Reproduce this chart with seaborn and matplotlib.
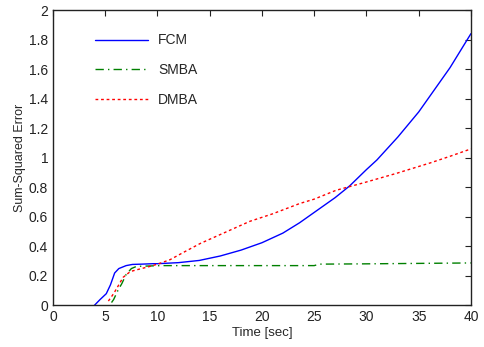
import matplotlib
matplotlib.use("Agg")
import matplotlib.pyplot as plt
from matplotlib.ticker import FuncFormatter, MultipleLocator
import seaborn as sns
import pandas as pd

# Sum-squared error over time for each method
fcm_t = [3.95, 4.5, 5.1, 5.5, 5.9, 6.3, 7.0, 7.6, 8.5, 9.6, 10, 12, 14, 16, 18, 20,
         22, 23.6, 25, 27, 28.4, 30, 31, 33, 35, 36, 38, 40]
fcm_e = [0.0, 0.04, 0.08, 0.14, 0.22, 0.25, 0.27, 0.278, 0.28, 0.283, 0.283, 0.29, 0.305,
         0.335, 0.375, 0.425, 0.49, 0.56, 0.63, 0.73, 0.81, 0.92, 0.985, 1.14, 1.31,
         1.41, 1.61, 1.84]

smba_t = [5.6, 5.8, 6.2, 6.6, 7.0, 7.5, 8, 9, 10.4, 15, 20, 25, 25.5, 30, 35, 40]
smba_e = [0.02, 0.04, 0.10, 0.15, 0.21, 0.25, 0.265, 0.267, 0.27, 0.27, 0.27, 0.27,
          0.28, 0.282, 0.285, 0.288]

dmba_t = [5.3, 5.8, 6.3, 6.7, 7.4, 8.2, 9.3, 10, 11.2, 12.5, 14.1, 16, 18.85, 21, 23.6,
          25, 27.1, 29.7, 32.9, 36.1, 38, 40]
dmba_e = [0.03, 0.08, 0.14, 0.19, 0.23, 0.245, 0.265, 0.28, 0.31, 0.36, 0.42, 0.48, 0.57,
          0.62, 0.69, 0.72, 0.78, 0.83, 0.895, 0.965, 1.01, 1.06]

methods = ["FCM", "SMBA", "DMBA"]
x_ticks = list(range(0, 41, 5))

df = pd.concat([
    pd.DataFrame({"Time": fcm_t, "SSE": fcm_e, "Method": "FCM"}),
    pd.DataFrame({"Time": smba_t, "SSE": smba_e, "Method": "SMBA"}),
    pd.DataFrame({"Time": dmba_t, "SSE": dmba_e, "Method": "DMBA"}),
], ignore_index=True)

sns.set_style("white")
plt.rcParams["font.family"] = ["Liberation Sans", "DejaVu Sans"]

fig = plt.figure(figsize=(4.84, 3.47), dpi=100)
ax = fig.add_axes([0.1095, 0.1196, 0.8635, 0.8515])

palette = {"FCM": "#0000ff", "SMBA": "#008000", "DMBA": "#ff0000"}
dashes = {"FCM": "", "SMBA": (6, 3, 1, 3), "DMBA": (2, 2)}

sns.lineplot(data=df, x="Time", y="SSE", hue="Method", style="Method",
             hue_order=methods, style_order=methods, palette=palette,
             dashes=dashes, linewidth=1.0, sort=False, estimator=None, ax=ax)

ax.set_xlim(0, 40)
ax.set_ylim(0, 2)
ax.set_xticks(x_ticks)
ax.yaxis.set_major_locator(MultipleLocator(0.2))
ax.yaxis.set_major_formatter(FuncFormatter(lambda v, p: f"{v:g}"))
ax.tick_params(direction="in", length=4, top=True, right=True, labelsize=10,
               colors="#222222", labelcolor="#222222")
for s in ax.spines.values():
    s.set_color("#222222")
    s.set_linewidth(1.0)

ax.set_xlabel("Time [sec]", fontsize=9.5, labelpad=2)
ax.set_ylabel("Sum-Squared Error", fontsize=9, labelpad=2)

leg = ax.legend(loc="upper left", bbox_to_anchor=(0.07, 0.963), frameon=False,
                fontsize=10, handlelength=3.8, handletextpad=0.75, labelspacing=1.12)

fig.savefig("out.png", dpi=100)
